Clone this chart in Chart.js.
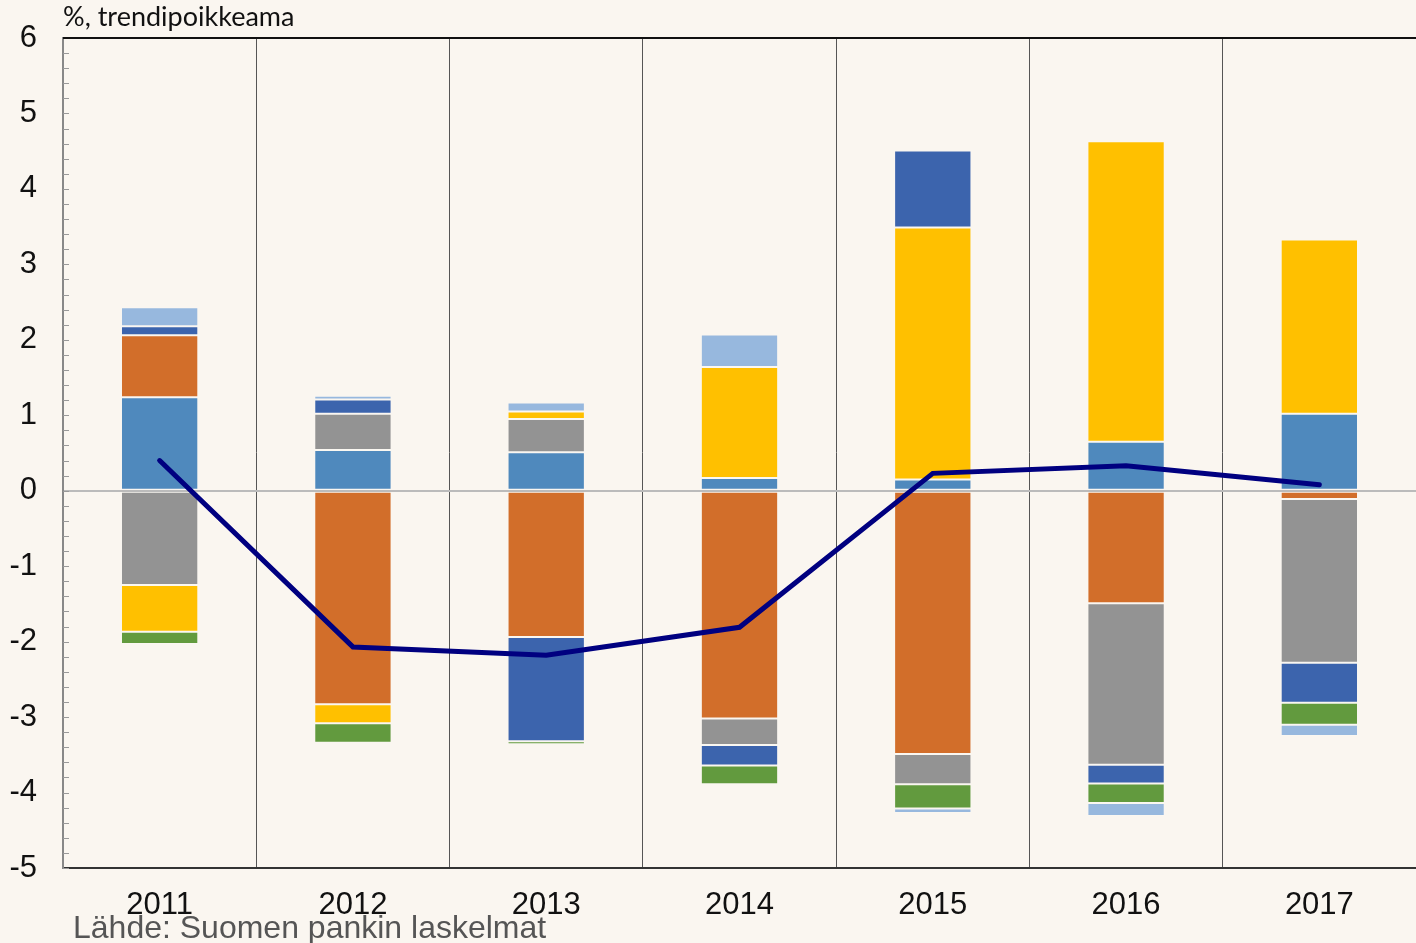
<!DOCTYPE html>
<html>
<head>
<meta charset="utf-8">
<script src="https://cdn.jsdelivr.net/npm/chart.js@4/dist/chart.umd.min.js"></script>
<style>
  html, body { margin: 0; padding: 0; background: #faf6f0; }
  #wrap { width: 1416px; height: 943px; position: relative; }
</style>
</head>
<body>
<div id="wrap"><canvas id="myChart" width="1416" height="943"></canvas></div>
<script>
// Categories and series
const years = ['2011', '2012', '2013', '2014', '2015', '2016', '2017'];

const seriesA = [1.24, 0.54, 0.51, 0.17, 0.15, 0.65, 1.02];        // steel blue
const seriesB = [0.82, -2.83, -1.94, -3.02, -3.49, -1.49, -0.11];  // orange
const seriesC = [-1.25, 0.48, 0.44, -0.35, -0.40, -2.14, -2.17];   // grey
const seriesD = [-0.62, -0.25, 0.10, 1.47, 3.34, 3.98, 2.31];      // yellow
const seriesE = [0.12, 0.19, -1.38, -0.27, 1.02, -0.25, -0.53];    // dark blue
const seriesF = [-0.16, -0.26, -0.04, -0.25, -0.32, -0.26, -0.29]; // green
const seriesG = [0.25, 0.05, 0.12, 0.43, -0.06, -0.17, -0.15];     // light blue
const total = [0.40, -2.07, -2.18, -1.81, 0.23, 0.33, 0.08];       // line

const yTicks = [-5, -4, -3, -2, -1, 0, 1, 2, 3, 4, 5, 6];

const colors = ['#4f89bd', '#d26e2a', '#939393', '#ffc000', '#3c64ad', '#629a3e', '#97b8de'];

function bar(data, color) {
    return {
        type: 'bar',
        data: data,
        backgroundColor: color,
        borderColor: 'rgba(255,255,255,0.12)',
        borderWidth: 1,
        borderSkipped: false,
        barPercentage: 0.4,
        categoryPercentage: 1,
        stack: 'bars',
        order: 2
    };
}

// small inside ticks on the y axis, top border, title and source text
const extras = {
    id: 'extras',
    afterDraw(chart) {
        const ctx = chart.ctx;
        const area = chart.chartArea;
        const y = chart.scales.y;
        ctx.save();
        ctx.strokeStyle = '#999';
        ctx.lineWidth = 1;
        for (let v = -50; v <= 60; v += 2) {
            const py = Math.round(y.getPixelForValue(v / 10)) + 0.5;
            ctx.beginPath();
            ctx.moveTo(area.left, py);
            ctx.lineTo(area.left + 6, py);
            ctx.stroke();
        }
        ctx.strokeStyle = '#111';
        ctx.lineWidth = 2;
        ctx.beginPath();
        ctx.moveTo(area.left, area.top);
        ctx.lineTo(area.right, area.top);
        ctx.stroke();

        ctx.fillStyle = '#111';
        ctx.font = '27px Lato, "Open Sans", sans-serif';
        ctx.textBaseline = 'alphabetic';
        ctx.textAlign = 'left';
        ctx.fillText('%, trendipoikkeama', 63, 26);

        ctx.fillStyle = '#555';
        ctx.font = '32px "Liberation Sans", Arial, sans-serif';
        ctx.fillText('Lähde: Suomen pankin laskelmat', 73, 938);
        ctx.restore();
    }
};

const ctx = document.getElementById('myChart').getContext('2d');

new Chart(ctx, {
    data: {
        labels: years,
        datasets: [
            {
                type: 'line',
                data: total,
                borderColor: '#000080',
                borderWidth: 5,
                borderCapStyle: 'round',
                pointRadius: 0,
                tension: 0,
                fill: false,
                stack: 'line',
                order: 1
            },
            bar(seriesA, colors[0]),
            bar(seriesB, colors[1]),
            bar(seriesC, colors[2]),
            bar(seriesD, colors[3]),
            bar(seriesE, colors[4]),
            bar(seriesF, colors[5]),
            bar(seriesG, colors[6])
        ]
    },
    options: {
        responsive: false,
        animation: false,
        layout: { padding: { top: 38, right: 0, bottom: 0, left: 0 } },
        plugins: {
            legend: { display: false },
            tooltip: { enabled: false }
        },
        scales: {
            x: {
                stacked: true,
                offset: true,
                afterFit(scale) {
                    scale.height = 75;
                    scale.paddingLeft = 0;
                    scale.paddingRight = 0;
                },
                grid: {
                    offset: true,
                    color: '#555',
                    lineWidth: 1,
                    drawTicks: false
                },
                border: { color: '#333', width: 2 },
                ticks: {
                    color: '#111',
                    padding: 19,
                    font: { family: '"Liberation Sans", Arial, sans-serif', size: 31 }
                }
            },
            y: {
                stacked: true,
                min: -5,
                max: 6,
                afterFit(scale) {
                    scale.width = 63;
                    scale.paddingTop = 0;
                    scale.paddingBottom = 0;
                },
                afterBuildTicks(scale) {
                    scale.ticks = yTicks.map(v => ({ value: v }));
                },
                grid: {
                    drawTicks: false,
                    color: c => (c.tick && c.tick.value === 0) ? '#bbb' : 'rgba(0,0,0,0)',
                    lineWidth: 2
                },
                border: { color: '#888', width: 2 },
                ticks: {
                    color: '#111',
                    padding: 26,
                    font: { family: '"Liberation Sans", Arial, sans-serif', size: 31 }
                }
            }
        }
    },
    plugins: [extras]
});
</script>
</body>
</html>
